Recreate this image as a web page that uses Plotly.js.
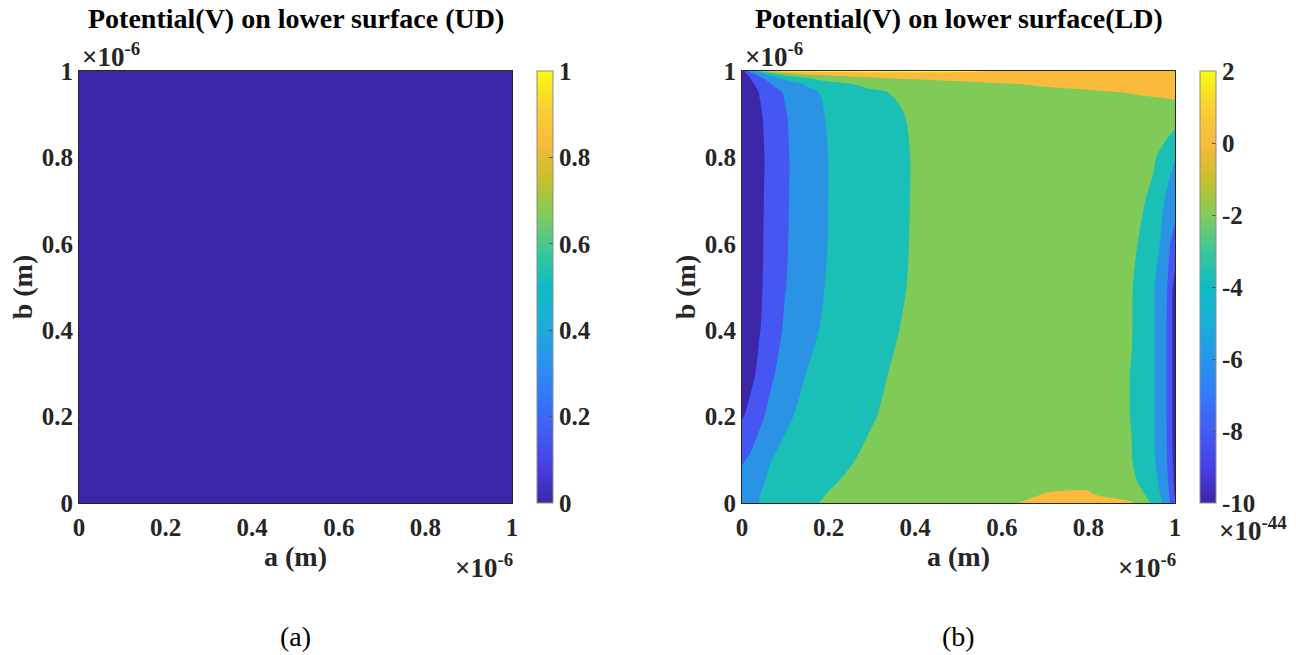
<!DOCTYPE html>
<html><head><meta charset="utf-8">
<script src="https://cdn.plot.ly/plotly-3.0.1.min.js"></script>
<style>html,body{margin:0;padding:0;background:#fff}#chart{width:1296px;height:655px}</style>
</head><body><div id="chart"></div>
<script>
// ---- axis ticks (units of 1e-6 m) ----
const axisTickVals = [0, 0.2, 0.4, 0.6, 0.8, 1];
const axisTickText = ['0', '0.2', '0.4', '0.6', '0.8', '1'];

// ---- (a) UD: uniform potential (V) ----
const udX = [0, 0.5, 1];
const udY = [0, 0.5, 1];
const udZ = [
  [0, 0, 0],
  [0, 0, 0],
  [0, 0, 0]
];
const udBarVals = [0, 0.2, 0.4, 0.6, 0.8, 1];
const udBarText = ['0', '0.2', '0.4', '0.6', '0.8', '1'];

// ---- (b) LD: potential in units of 1e-44 V ----
const ldX = [0, 0.01, 0.02, 0.04, 0.07, 0.1, 0.15, 0.2, 0.3, 0.4, 0.5, 0.6, 0.7, 0.8, 0.9, 0.95, 0.98, 0.99, 1];
const ldY = [0, 0.02, 0.05, 0.1, 0.2, 0.3, 0.4, 0.5, 0.6, 0.7, 0.8, 0.9, 0.95, 0.97, 0.985, 0.995, 1];
const ldZ = [
  [-4.6, -4.4, -4.25, -3.97, -3.3, -2.8, -2.25, -1.8, -1.2, -0.75, -0.45, -0.15, 0.25, 0.3, 0.1, -2.4, -4.6, -6.3, -7.8],
  [-4.9, -4.6, -4.35, -4.05, -3.4, -2.9, -2.4, -1.95, -1.35, -0.85, -0.5, -0.25, 0.02, 0.08, -0.6, -2.9, -5.0, -6.5, -8.2],
  [-5.4, -5.1, -4.8, -4.3, -3.6, -3.1, -2.6, -2.15, -1.5, -1.0, -0.65, -0.35, -0.15, -0.2, -1.6, -3.2, -5.4, -6.8, -8.5],
  [-6.2, -5.95, -5.7, -5.0, -3.98, -3.4, -2.8, -2.4, -1.75, -1.2, -0.85, -0.6, -0.45, -0.5, -1.95, -3.7, -5.8, -7.0, -9.0],
  [-8.15, -7.8, -7.4, -6.45, -5.3, -4.4, -3.3, -2.75, -2.08, -1.4, -1.0, -0.8, -0.7, -0.8, -2.05, -3.8, -5.95, -7.2, -9.3],
  [-9.6, -9.0, -8.5, -7.6, -6.2, -5.2, -3.95, -3.2, -2.3, -1.5, -1.1, -0.85, -0.75, -0.85, -2.05, -3.8, -5.95, -7.2, -9.3],
  [-10.2, -9.5, -8.9, -8.1, -6.9, -5.7, -4.6, -3.5, -2.6, -1.65, -1.2, -0.9, -0.8, -0.9, -1.95, -3.8, -5.95, -7.2, -9.3],
  [-10.3, -9.6, -9.0, -8.3, -7.1, -6.05, -4.9, -3.8, -2.8, -1.8, -1.3, -1.0, -0.9, -1.0, -1.9, -3.8, -5.7, -7.0, -9.0],
  [-10.3, -9.6, -9.0, -8.35, -7.2, -6.15, -5.0, -3.95, -2.9, -1.85, -1.3, -1.0, -0.9, -1.0, -1.7, -2.8, -5.2, -6.05, -6.3],
  [-10.3, -9.6, -9.0, -8.4, -7.25, -6.2, -5.05, -3.98, -2.92, -1.87, -1.3, -1.0, -0.9, -0.95, -1.4, -2.35, -4.3, -5.0, -5.7],
  [-10.3, -9.65, -9.05, -8.45, -7.3, -6.22, -5.07, -3.98, -2.92, -1.88, -1.3, -1.0, -0.85, -0.85, -1.2, -1.8, -2.8, -3.4, -3.9],
  [-10.3, -9.6, -9.0, -8.3, -7.0, -6.1, -4.85, -3.8, -2.75, -1.75, -1.2, -0.9, -0.75, -0.65, -0.7, -0.8, -0.85, -0.85, -0.85],
  [-10.4, -9.6, -8.9, -7.95, -6.7, -5.8, -4.5, -3.6, -2.3, -1.5, -1.0, -0.7, -0.5, -0.25, 0.05, 0.2, 0.3, 0.35, 0.4],
  [-10.4, -9.4, -8.5, -7.3, -5.9, -5.0, -3.8, -2.6, -1.5, -1.0, -0.6, -0.15, 0.25, 0.5, 0.7, 0.8, 0.85, 0.85, 0.85],
  [-10.4, -8.9, -7.8, -6.3, -4.5, -3.3, -1.9, -1.0, -0.05, 0.4, 0.8, 1.1, 1.3, 1.35, 1.35, 1.35, 1.35, 1.35, 1.35],
  [-10.3, -8.0, -6.6, -4.6, -2.1, -0.05, 0.8, 1.2, 1.5, 1.65, 1.7, 1.7, 1.65, 1.6, 1.55, 1.5, 1.5, 1.5, 1.5],
  [-10.3, -6.5, -4.0, -1.0, 2.05, 2.6, 2.8, 2.8, 2.7, 2.5, 2.25, 1.95, 1.8, 1.75, 1.7, 1.7, 1.7, 1.7, 1.7]
];
const ldLevelStart = -8, ldLevelEnd = 2, ldLevelStep = 2;
const ldBarMin = -10, ldBarMax = 2;
const ldBarVals = [-10, -8, -6, -4, -2, 0, 2];
const ldBarText = ['-10', '-8', '-6', '-4', '-2', '0', '2'];

// ---- colours ----
const parula = [
  [0.000, '#3E26A8'], [0.083, '#4740E3'], [0.167, '#435CF6'], [0.250, '#3379FD'],
  [0.333, '#2796EB'], [0.417, '#1AADDA'], [0.500, '#0CBCC5'], [0.583, '#3BC79A'],
  [0.667, '#81CC59'], [0.750, '#C9BE2C'], [0.833, '#F8BA3D'], [0.917, '#FBD132'],
  [1.000, '#F9FB0E']
];
const bandColors = ['#3E26A8', '#4556F2', '#2A93E6', '#1ABFB5', '#80CB58', '#FCBA3D', '#F9FB0E'];
const bandScale = bandColors.map((c, i) => [i / (bandColors.length - 1), c]);

// ---- geometry ----
const W = 1296, H = 655;
const px = v => v / W, py = v => 1 - v / H;
const plotTop = 71, plotBot = 503;
const yDom = [py(plotBot), py(plotTop)];
const xDomA = [px(79), px(512)];
const xDomB = [px(742), px(1175)];
const FONT = 'Liberation Serif, Times New Roman, serif';
const ink = '#262626';

function cbar(xLeft, vals, text) {
  return {
    x: px(xLeft), xref: 'paper', xanchor: 'left', xpad: 0,
    y: (yDom[0] + yDom[1]) / 2, yanchor: 'middle', ypad: 0,
    len: plotBot - plotTop, lenmode: 'pixels',
    thickness: 16, thicknessmode: 'pixels',
    outlinecolor: '#8c8c8c', outlinewidth: 1,
    ticks: 'inside', ticklen: 4, tickcolor: '#555', tickwidth: 1,
    tickmode: 'array', tickvals: vals, ticktext: text,
    tickfont: {family: FONT, size: 25, color: ink, weight: 'bold'},
    ticklabelstandoff: 2
  };
}

const traces = [
  {
    type: 'heatmap', x: udX, y: udY, z: udZ, xaxis: 'x', yaxis: 'y',
    zmin: 0, zmax: 1, colorscale: parula, zsmooth: false, hoverinfo: 'skip',
    showscale: true, colorbar: cbar(537, udBarVals, udBarText)
  },
  {
    type: 'heatmap', x: ldX, y: ldY, z: ldZ, xaxis: 'x2', yaxis: 'y2',
    zmin: ldBarMin, zmax: ldBarMax, colorscale: parula, zsmooth: 'best', hoverinfo: 'skip',
    showscale: true, colorbar: cbar(1200, ldBarVals, ldBarText)
  },
  {
    type: 'contour', x: ldX, y: ldY, z: ldZ, xaxis: 'x2', yaxis: 'y2',
    autocontour: false,
    contours: {start: ldLevelStart, end: ldLevelEnd, size: ldLevelStep, coloring: 'fill', showlines: false},
    line: {width: 0, smoothing: 0.85},
    colorscale: bandScale, showscale: false, hoverinfo: 'skip'
  }
];

function xax(dom, anchor) {
  return {
    domain: dom, anchor: anchor, range: [0, 1], showgrid: false, zeroline: false,
    showline: true, mirror: true, linecolor: ink, linewidth: 1, ticks: '',
    tickmode: 'array', tickvals: axisTickVals, ticktext: axisTickText,
    tickfont: {family: FONT, size: 25, color: ink, weight: 'bold'},
    ticklabelstandoff: 2, fixedrange: true,
    title: {text: 'a (m)', font: {family: FONT, size: 28, color: ink, weight: 'bold'}, standoff: 6}
  };
}
function yax(anchor) {
  return {
    domain: yDom, anchor: anchor, range: [0, 1], showgrid: false, zeroline: false,
    showline: true, mirror: true, linecolor: ink, linewidth: 1, ticks: '',
    tickmode: 'array', tickvals: axisTickVals, ticktext: axisTickText,
    tickfont: {family: FONT, size: 25, color: ink, weight: 'bold'},
    ticklabelstandoff: 0, fixedrange: true,
    title: {text: 'b (m)', font: {family: FONT, size: 28, color: ink, weight: 'bold'}, standoff: 0}
  };
}

function ann(x, y, text, size, opts) {
  return Object.assign({
    x: x, y: y, xref: 'paper', yref: 'paper', text: text, showarrow: false,
    xanchor: 'center', yanchor: 'middle',
    font: {family: FONT, size: size, color: '#000', weight: 'bold'}
  }, opts || {});
}
const expFont = {family: FONT, size: 27, color: ink, weight: 'bold'};

const layout = {
  width: W, height: H, margin: {l: 0, r: 0, t: 0, b: 0},
  paper_bgcolor: '#fff', plot_bgcolor: '#fff', showlegend: false,
  xaxis: xax(xDomA, 'y'), yaxis: yax('x'),
  xaxis2: xax(xDomB, 'y2'), yaxis2: yax('x2'),
  annotations: [
    ann(px(295.5), py(18), 'Potential(V) on lower surface (UD)', 28),
    ann(px(958.5), py(18), 'Potential(V) on lower surface(LD)', 28),
    ann(px(80), py(55), '×10<sup>-6</sup>', 27, {xanchor: 'left', font: expFont}),
    ann(px(743), py(55), '×10<sup>-6</sup>', 27, {xanchor: 'left', font: expFont}),
    ann(px(515), py(566), '×10<sup>-6</sup>', 27, {xanchor: 'right', font: expFont}),
    ann(px(1178), py(566), '×10<sup>-6</sup>', 27, {xanchor: 'right', font: expFont}),
    ann(px(1217), py(529), '×10<sup>-44</sup>', 27, {xanchor: 'left', font: expFont}),
    ann(px(295.5), py(636), '(a)', 28, {font: {family: FONT, size: 28, color: '#000', weight: 'normal'}}),
    ann(px(958.5), py(636), '(b)', 28, {font: {family: FONT, size: 28, color: '#000', weight: 'normal'}})
  ]
};

Plotly.newPlot('chart', traces, layout, {displayModeBar: false, staticPlot: true});
</script>
</body></html>
